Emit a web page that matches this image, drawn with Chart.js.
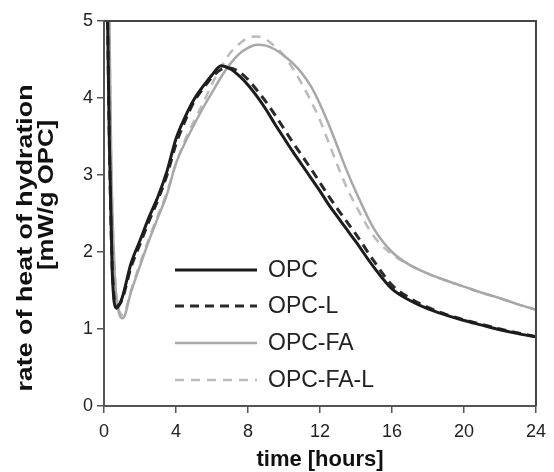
<!DOCTYPE html>
<html lang="en">
<head>
  <meta charset="UTF-8">
  <title>rate of heat of hydration</title>
  <script src="https://cdn.jsdelivr.net/npm/chart.js"></script>
  <style>
    body { margin: 0; background: #fff; }
    #wrap { width: 554px; height: 472px; }
  </style>
</head>
<body>
  <div id="wrap">
    <canvas id="heatChart" width="554" height="472"></canvas>
  </div>

  <script>
    // time axis for the plain mixes and for the fly ash mixes (hours)
    const hoursOPC = [0.2, 0.3, 0.45, 0.7, 1, 1.5, 2, 2.5, 3, 3.5, 4, 4.5, 5, 5.5, 6, 6.5, 7, 7.5, 8, 8.5, 9, 9.5, 10, 10.5, 11, 11.5, 12, 12.5, 13, 13.5, 14, 15, 16, 17, 18, 19, 20, 21, 22, 23, 24];
    const hoursFA = [0.3, 0.4, 0.6, 0.8, 1.05, 1.5, 2, 2.5, 3, 3.5, 4, 4.5, 5, 5.5, 6, 6.5, 7, 7.5, 8, 8.5, 9, 9.5, 10, 10.5, 11, 11.5, 12, 12.5, 13, 13.5, 14, 15, 16, 17, 18, 19, 20, 21, 22, 23, 24];

    // mW/g OPC
    const opc = [5.0, 3.4, 1.8, 1.27, 1.4, 1.85, 2.15, 2.45, 2.72, 3.05, 3.47, 3.75, 3.98, 4.15, 4.3, 4.42, 4.38, 4.29, 4.17, 4.02, 3.85, 3.66, 3.48, 3.3, 3.13, 2.96, 2.79, 2.61, 2.45, 2.29, 2.13, 1.8, 1.52, 1.37, 1.26, 1.18, 1.11, 1.05, 0.99, 0.94, 0.9];
    const opcL = [5.0, 3.4, 1.85, 1.3, 1.38, 1.8, 2.1, 2.4, 2.68, 3.0, 3.4, 3.7, 3.95, 4.12, 4.27, 4.37, 4.39, 4.34, 4.24, 4.1, 3.95, 3.78, 3.6, 3.42, 3.25, 3.08, 2.9, 2.72, 2.55, 2.39, 2.23, 1.88, 1.57, 1.4, 1.28, 1.19, 1.12, 1.06, 1.0, 0.95, 0.9];
    const opcFA = [5.0, 3.2, 1.7, 1.25, 1.14, 1.48, 1.82, 2.15, 2.45, 2.75, 3.15, 3.42, 3.65, 3.87, 4.07, 4.27, 4.44, 4.57, 4.65, 4.69, 4.68, 4.63, 4.55, 4.45, 4.32, 4.15, 3.92, 3.65, 3.35, 3.05, 2.78, 2.3, 2.0, 1.83, 1.72, 1.63, 1.55, 1.47, 1.4, 1.32, 1.25];
    const opcFAL = [5.0, 3.2, 1.7, 1.28, 1.18, 1.5, 1.85, 2.18, 2.48, 2.78, 3.15, 3.45, 3.7, 3.93, 4.18, 4.4, 4.58, 4.7, 4.78, 4.8, 4.76, 4.67, 4.55, 4.38, 4.18, 3.96, 3.71, 3.41, 3.11, 2.83, 2.6, 2.2, 1.97, 1.83, 1.72, 1.63, 1.55, 1.47, 1.4, 1.32, 1.25];

    const seriesNames = ['OPC', 'OPC-L', 'OPC-FA', 'OPC-FA-L'];
    const xTicks = [0, 4, 8, 12, 16, 20, 24];
    const yTicks = [0, 1, 2, 3, 4, 5];

    function pts(xs, ys) {
      return xs.map((x, i) => ({ x: x, y: ys[i] }));
    }

    // frame, axis titles and the legend inside the plot
    const decor = {
      id: 'decor',
      afterDatasetsDraw(chart) {
        const ctx = chart.ctx;
        const a = chart.chartArea;
        ctx.save();
        ctx.strokeStyle = '#444';
        ctx.lineWidth = 2;
        ctx.beginPath();
        ctx.moveTo(a.left, a.top);
        ctx.lineTo(a.right, a.top);
        ctx.lineTo(a.right, a.bottom);
        ctx.stroke();

        // legend
        ctx.font = '23px "Liberation Sans", Arial, sans-serif';
        ctx.textBaseline = 'middle';
        ctx.textAlign = 'left';
        const rows = [270, 306, 343, 380];
        chart.data.datasets.forEach((ds, i) => {
          ctx.strokeStyle = ds.borderColor;
          ctx.lineWidth = ds.borderWidth;
          ctx.setLineDash(ds.borderDash || []);
          ctx.beginPath();
          ctx.moveTo(175, rows[i]);
          ctx.lineTo(257, rows[i]);
          ctx.stroke();
          ctx.setLineDash([]);
          ctx.fillStyle = '#222';
          ctx.fillText(ds.label, 268, rows[i] + 1);
        });

        // axis titles
        ctx.fillStyle = '#111';
        ctx.font = 'bold 22px "Liberation Sans", Arial, sans-serif';
        ctx.textAlign = 'center';
        ctx.fillText('time [hours]', 320, 460);

        ctx.save();
        ctx.translate(26, 238);
        ctx.rotate(-Math.PI / 2);
        ctx.scale(1.22, 1);
        ctx.fillText('rate of heat of hydration', 0, 0);
        ctx.restore();
        ctx.save();
        ctx.translate(47, 195);
        ctx.rotate(-Math.PI / 2);
        ctx.scale(1.17, 1);
        ctx.fillText('[mW/g OPC]', 0, 0);
        ctx.restore();
        ctx.restore();
      }
    };

    const ctx = document.getElementById('heatChart').getContext('2d');
    new Chart(ctx, {
      type: 'line',
      data: {
        datasets: [
          { label: seriesNames[0], data: pts(hoursOPC, opc), borderColor: '#1c1c1c', borderWidth: 3 },
          { label: seriesNames[1], data: pts(hoursOPC, opcL), borderColor: '#2a2a2a', borderWidth: 3, borderDash: [9, 6] },
          { label: seriesNames[2], data: pts(hoursFA, opcFA), borderColor: '#a8a8a8', borderWidth: 2.5 },
          { label: seriesNames[3], data: pts(hoursFA, opcFAL), borderColor: '#bbbbbb', borderWidth: 2.5, borderDash: [9, 7] }
        ]
      },
      options: {
        responsive: false,
        animation: false,
        layout: { padding: { top: 21, right: 11, left: 0, bottom: 0 } },
        elements: {
          point: { radius: 0 },
          line: { cubicInterpolationMode: 'monotone', fill: false }
        },
        plugins: {
          legend: { display: false },
          tooltip: { enabled: false }
        },
        scales: {
          x: {
            type: 'linear',
            min: 0,
            max: 24,
            afterBuildTicks: s => { s.ticks = xTicks.map(v => ({ value: v })); },
            afterFit: s => { s.height = 66; },
            grid: { drawOnChartArea: false, tickLength: 7, color: '#555', lineWidth: 1.5 },
            border: { color: '#555', width: 2 },
            ticks: { color: '#222', padding: 8, font: { size: 18, family: '"Liberation Sans", Arial, sans-serif' } }
          },
          y: {
            min: 0,
            max: 5,
            afterBuildTicks: s => { s.ticks = yTicks.map(v => ({ value: v })); },
            afterFit: s => { s.width = 104; },
            grid: { drawOnChartArea: false, tickLength: 7, color: '#555', lineWidth: 1.5 },
            border: { color: '#555', width: 2 },
            ticks: { color: '#222', padding: 4, font: { size: 18, family: '"Liberation Sans", Arial, sans-serif' } }
          }
        }
      },
      plugins: [decor]
    });
  </script>
</body>
</html>
